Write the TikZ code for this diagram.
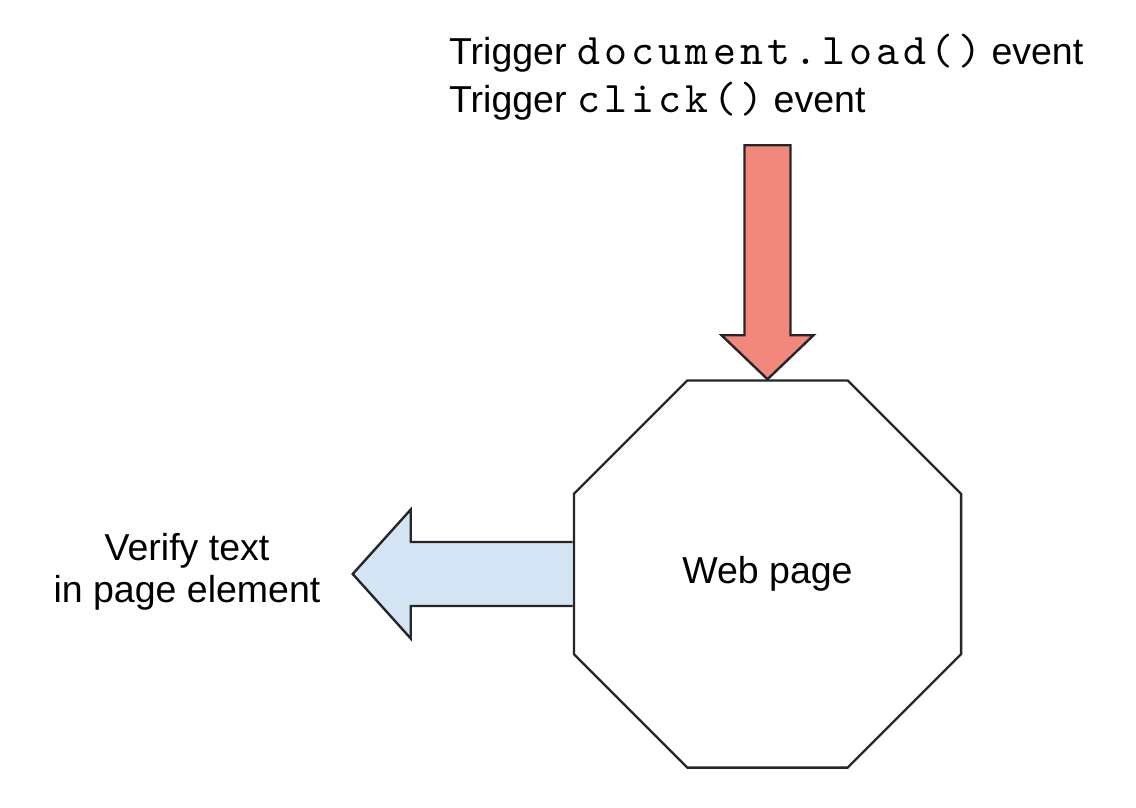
\documentclass[tikz,border=0pt]{standalone}
\usepackage{fontspec}
\setmainfont{Liberation Sans}
\newfontfamily\codefont{lmmono10-regular.otf}[LetterSpace=9.8]
\usetikzlibrary{shapes.geometric,backgrounds}
\definecolor{edgecol}{HTML}{262626}
\definecolor{redfill}{HTML}{F2877D}
\definecolor{bluefill}{HTML}{D3E5F4}
\tikzset{
  lbl/.style={font=\fontsize{37.5}{42}\selectfont, inner sep=0pt, text=black},
  octa/.style={regular polygon, regular polygon sides=8, minimum size=419pt,
    inner sep=0pt, draw=edgecol, line width=2.4pt, fill=white},
  blockarrow/.style={draw=edgecol, line width=2.4pt, line join=miter},
}
\newcommand{\code}[1]{{\fontsize{43.7}{42}\codefont #1}}
\begin{document}
\begin{tikzpicture}[x=1pt,y=-1pt]
\useasboundingbox (0,0) rectangle (1136,808);
\node[octa, lbl] (web) at (767.5,574) {Web page};
\begin{scope}[on background layer]
\draw[blockarrow, fill=redfill] (web.north) -- ++(-46,-44) -- ++(23,0) -- ++(0,-190)
  -- ++(46,0) -- ++(0,190) -- ++(23,0) -- cycle;
\draw[blockarrow, fill=bluefill] (web.west) ++(0,-32) -- ++(-162,0) -- ++(0,-32.5)
  -- ++(-58,64.5) -- ++(58,64.5) -- ++(0,-32.5) -- ++(162,0);
\end{scope}
\node[lbl, anchor=base west] (trig1) at (449,65) {Trigger \code{document.load()} event};
\node[lbl, anchor=base west] (trig2) at (449,113) {Trigger \code{click()} event};
\node[lbl, align=center, anchor=base] (verify) at (187,602) {Verify text\\in page element};
\end{tikzpicture}
\end{document}
